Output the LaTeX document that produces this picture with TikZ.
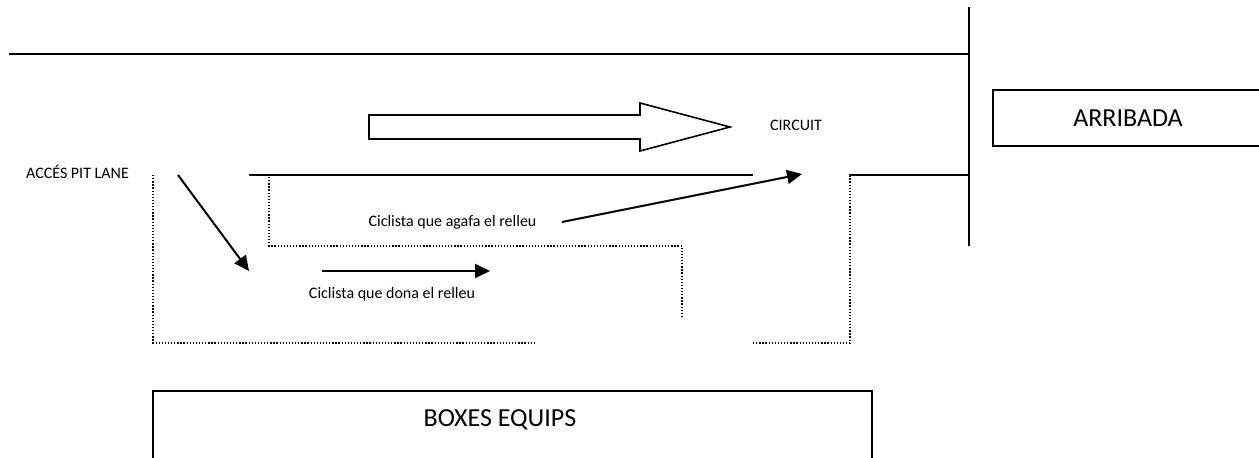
\documentclass[tikz,border=0pt]{standalone}
\usepackage{fontspec}
\setmainfont{Carlito}
\usetikzlibrary{arrows.meta}
\tikzset{
  solidline/.style={line width=2pt},
  dotline/.style={line width=1.3pt, dash pattern=on 1.3pt off 1.8pt},
  arrowline/.style={line width=2pt, -{Triangle[length=15pt,width=14pt]}},
  smalltxt/.style={inner sep=0pt, anchor=base, font=\fontsize{16}{19}\selectfont},
  bigtxt/.style={inner sep=0pt, anchor=base, font=\fontsize{26}{31}\selectfont},
}
\begin{document}
\begin{tikzpicture}[x=1pt,y=-1pt]
\useasboundingbox (0,0) rectangle (1259,458);
% track boundaries
\draw[solidline] (9,54) -- (969,54);
\draw[solidline] (969,7) -- (969,246);
\draw[solidline] (249,175) -- (753,175);
\draw[solidline] (849,175) -- (969,175);
% pit lane dotted outlines
\draw[dotline] (153,175) -- (153,343) -- (535,343);
\draw[dotline] (753,343) -- (850,343) -- (850,176);
\draw[dotline] (269,177) -- (269,246) -- (682,246) -- (682,316);
% block arrow
\draw[line width=1.6pt, line join=miter] (369,115) -- (640,115) -- (640,103) -- (730,127) -- (640,151) -- (640,139) -- (369,139) -- cycle;
% texts
\node[smalltxt] (circ) at (796,130) {CIRCUIT};
\node[smalltxt] (acces) at (77.5,178) {ACCÉS PIT LANE};
\node[smalltxt] (agafa) at (452.5,226) {Ciclista que agafa el relleu};
\node[smalltxt] (dona) at (392,298) {Ciclista que dona el relleu};
% boxes
\node[draw, line width=1.6pt, minimum width=269pt, minimum height=56pt, inner sep=0pt] (arrbox) at (1127.5,118) {};
\node[bigtxt] (arr) at (1128,126) {ARRIBADA};
\draw[line width=2pt] (153,462) -- (153,391) -- (872,391) -- (872,462);
\node[bigtxt] (boxes) at (500,426) {BOXES EQUIPS};
% arrows
\coordinate (d1) at (178,175);
\coordinate (d2) at (249,271);
\draw[arrowline] (d1) -- (d2);
\coordinate (h1) at (322,271);
\coordinate (h2) at (490,271);
\draw[arrowline] (h1) -- (h2);
\coordinate (a1) at (562,222);
\coordinate (a2) at (802,174);
\draw[arrowline] (a1) -- (a2);
\end{tikzpicture}
\end{document}
